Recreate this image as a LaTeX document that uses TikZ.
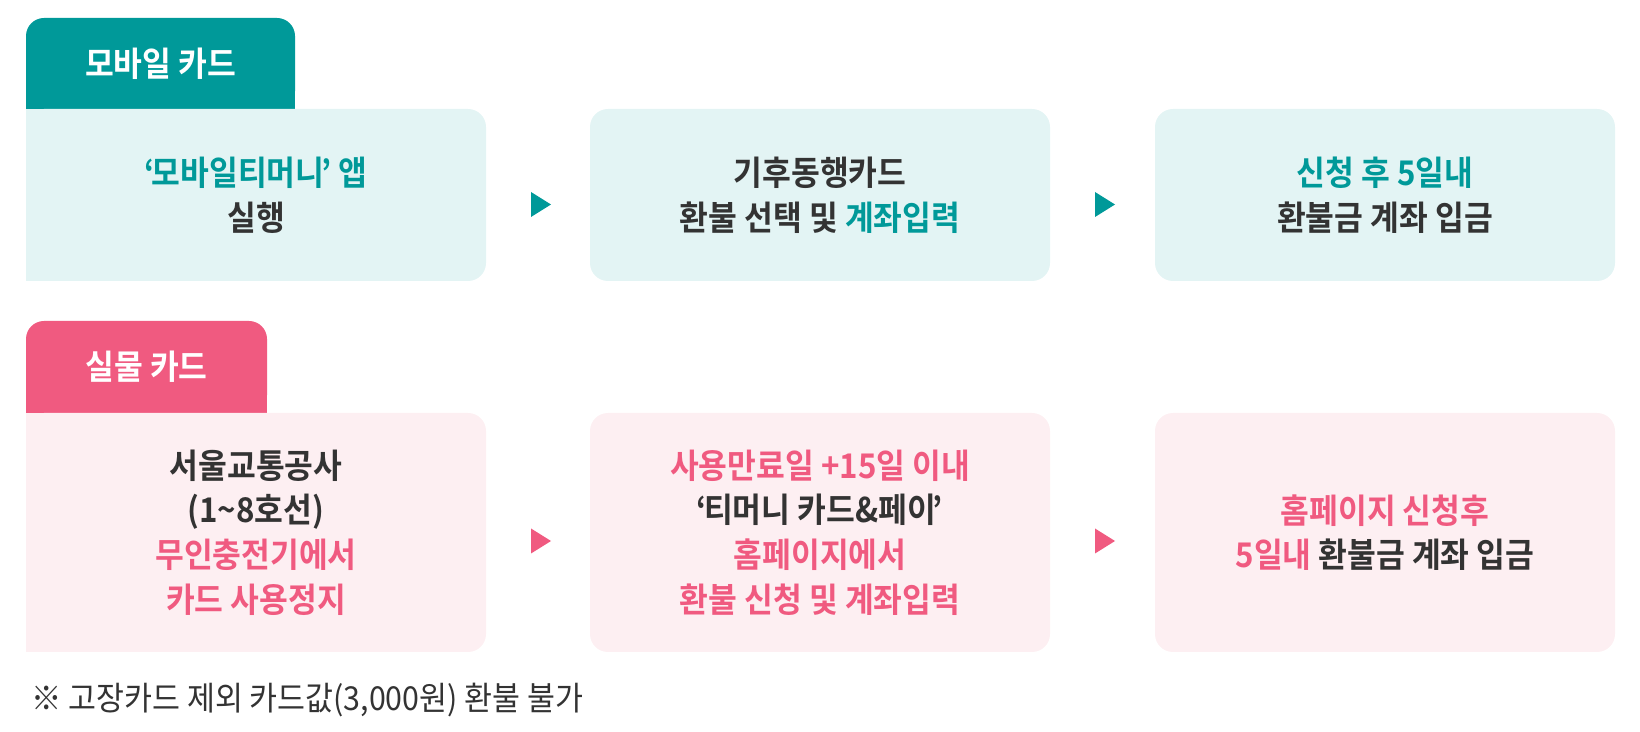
\documentclass[tikz,border=0pt]{standalone}
\usepackage{fontspec}
\setmainfont{Noto Sans CJK KR}[BoldFont={Noto Sans CJK KR Bold},FakeStretch=0.92]
\usetikzlibrary{calc}
\definecolor{tealM}{HTML}{009999}
\definecolor{tealL}{HTML}{E3F4F4}
\definecolor{pinkM}{HTML}{F05A80}
\definecolor{pinkL}{HTML}{FDEFF2}
\definecolor{ink}{HTML}{333333}
\newcommand\myoq{‘\kern-1.5pt}
\newcommand\mycq{\kern-1.5pt’}
\tikzset{
  tabbox/.style={rounded corners=9pt, inner sep=0pt, text=white,
    font=\bfseries\fontsize{17}{22}\selectfont},
  stepbox/.style={rounded corners=9pt, inner sep=0pt, text=ink, align=center,
    minimum width=230pt, font=\bfseries\fontsize{17}{22.3}\selectfont},
  toprow/.style={stepbox, fill=tealL, minimum height=86pt},
  botrow/.style={stepbox, fill=pinkL, minimum height=119.5pt},
  note/.style={inner sep=0pt, text=ink, anchor=west, font=\fontsize{16.5}{18}\selectfont}
}
\begin{document}
\begin{tikzpicture}[x=0.5pt,y=-0.5pt]
\useasboundingbox (0,0) rectangle (1640,732);
% ---- mobile card ----
\node[tabbox, fill=tealM, minimum width=134.5pt, minimum height=45.5pt] (tab1) at (160.5,63.5) {모바일 카드};
\fill[tealM] ($(tab1.south west)+(0,-20)$) rectangle (tab1.south east);
\node[toprow] (m1) at (256,195) {\textcolor{tealM}{\myoq 모바일티머니\mycq{} 앱}\\실행};
\fill[tealL] (m1.north west) rectangle ($(m1.south west)+(24,0)$);
\node[toprow] (m2) at (820,195) {기후동행카드\\환불 선택 및 \textcolor{tealM}{계좌입력}};
\node[toprow] (m3) at (1385,195) {\textcolor{tealM}{신청 후 5일내}\\환불금 계좌 입금};
\fill[tealM] (531,192) coordinate (a1) -- (551,204.5) -- (531,217) -- cycle;
\fill[tealM] (1095,192) coordinate (a2) -- (1115,204.5) -- (1095,217) -- cycle;
% ---- physical card ----
\node[tabbox, fill=pinkM, minimum width=120.5pt, minimum height=46pt] (tab2) at (146.5,367) {실물 카드};
\fill[pinkM] ($(tab2.south west)+(0,-20)$) rectangle (tab2.south east);
\node[botrow] (p1) at (256,532.5) {서울교통공사\\(1\textasciitilde 8호선)\\\textcolor{pinkM}{무인충전기에서}\\\textcolor{pinkM}{카드 사용정지}};
\fill[pinkL] (p1.north west) rectangle ($(p1.south west)+(24,0)$);
\node[botrow] (p2) at (820,532.5) {\textcolor{pinkM}{사용만료일 +15일 이내}\\\myoq 티머니 카드\&페이\mycq\\\textcolor{pinkM}{홈페이지에서}\\\textcolor{pinkM}{환불 신청 및 계좌입력}};
\node[botrow] (p3) at (1385,532.5) {\textcolor{pinkM}{홈페이지 신청후}\\\textcolor{pinkM}{5일내} 환불금 계좌 입금};
\fill[pinkM] (531,528.5) coordinate (a3) -- (551,541) -- (531,553.5) -- cycle;
\fill[pinkM] (1095,528.5) coordinate (a4) -- (1115,541) -- (1095,553.5) -- cycle;
% ---- footnote ----
\node[note] (fn) at (31,700) {※ 고장카드 제외 카드값(3,000원) 환불 불가};
\end{tikzpicture}
\end{document}
